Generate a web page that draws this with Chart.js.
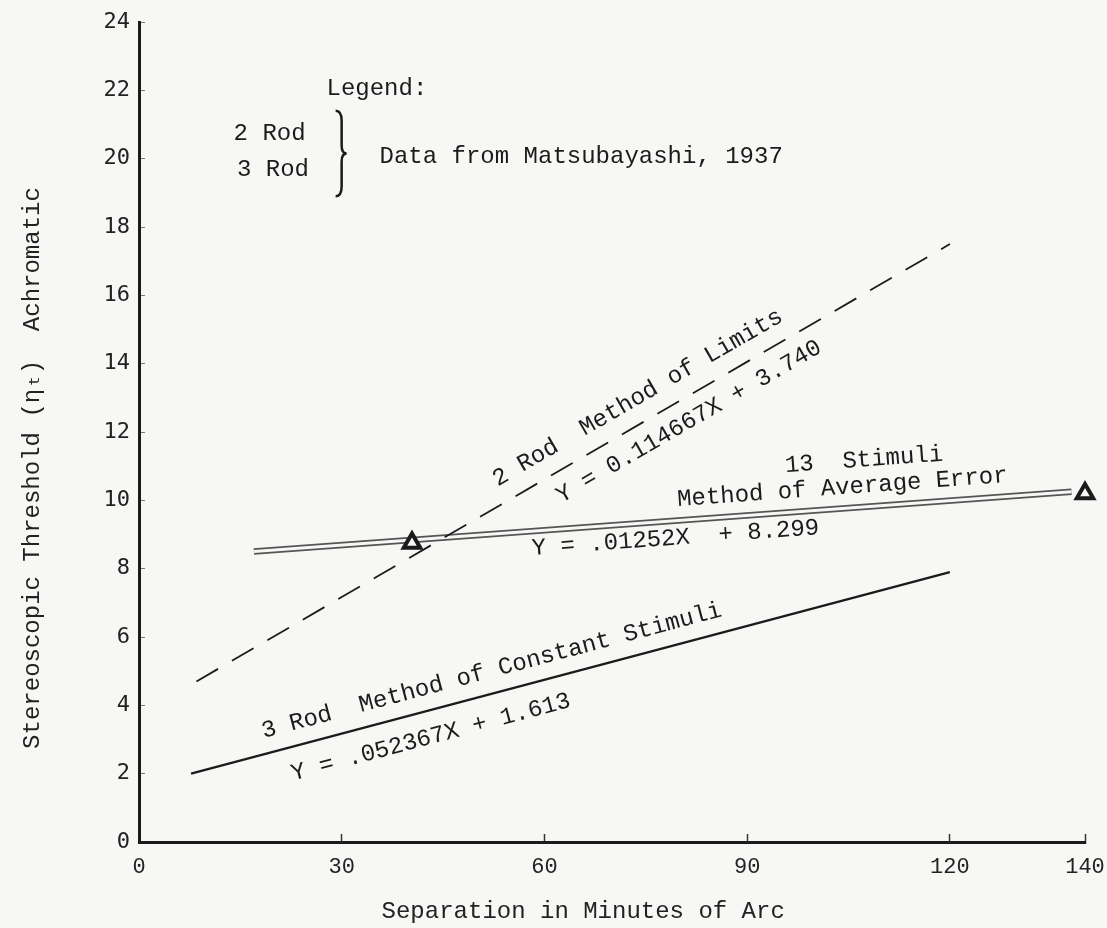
<!DOCTYPE html>
<html>
<head>
<meta charset="utf-8">
<title>Stereoscopic Threshold vs Separation</title>
<script src="https://cdn.jsdelivr.net/npm/chart.js@4.4.1/dist/chart.umd.min.js"></script>
<style>
  html, body { margin: 0; padding: 0; background: #f7f7f5; }
  #wrap { width: 1107px; height: 928px; position: relative; }
</style>
</head>
<body>
<div id="wrap"><canvas id="threshChart"></canvas></div>
<script>
// axis ticks
const xTicks = [0, 30, 60, 90, 120, 140];
const yTicks = [0, 2, 4, 6, 8, 10, 12, 14, 16, 18, 20, 22, 24];

// 2 Rod, method of limits (dashed line)
const limitsX = [8.5, 120];
const limitsY = [4.7, 17.5];

// 3 Rod, method of constant stimuli (solid line)
const constantX = [7.7, 120];
const constantY = [2.0, 7.9];

// 13 stimuli, method of average error (double line)
const avgErrX = [17, 138];
const avgErrY = [8.5, 10.25];

// triangle markers
const markX = [40.4, 140];
const markY = [8.75, 10.2];

// text written along the lines (centre of the text, in data units)
const lineNotes = [
  { text: '2 Rod  Method of Limits', x: 73.8, y: 13.0, along: 0 },
  { text: 'Y = 0.114667X + 3.740', x: 81.4, y: 12.3, along: 0 },
  { text: '3 Rod  Method of Constant Stimuli', x: 52.2, y: 5.01, along: 1 },
  { text: 'Y = .052367X + 1.613', x: 43.2, y: 3.06, along: 1 },
  { text: '13  Stimuli', x: 107.3, y: 11.18, along: 2 },
  { text: 'Method of Average Error', x: 104.1, y: 10.37, along: 2 },
  { text: 'Y = .01252X  + 8.299', x: 79.4, y: 8.89, along: 2 }
];

// the typed legend in the upper left
const legendNotes = [
  { text: 'Legend:', x: 27.75, y: 22.04 },
  { text: '2 Rod', x: 14.0, y: 20.72 },
  { text: '3 Rod', x: 14.5, y: 19.67 },
  { text: 'Data from Matsubayashi, 1937', x: 35.6, y: 20.06 }
];
const brace = { x: 29.1, top: 21.4, bottom: 18.9 };

const PAPER = '#f7f7f5';
const INK = '#1b1b1b';
const TYPE = "'Liberation Mono', 'Courier New', monospace";

Chart.defaults.font.family = TYPE;
Chart.defaults.color = INK;

function pts(xs, ys) {
  return xs.map((x, i) => ({ x: x, y: ys[i] }));
}

// draws the typed notes and the legend brace
const notesPlugin = {
  id: 'notes',
  afterDatasetsDraw(chart) {
    const ctx = chart.ctx;
    const xs = chart.scales.x;
    const ys = chart.scales.y;
    ctx.save();
    ctx.fillStyle = INK;
    ctx.strokeStyle = INK;
    ctx.font = '24px ' + TYPE;
    ctx.textBaseline = 'middle';

    ctx.textAlign = 'left';
    legendNotes.forEach(n => {
      ctx.fillText(n.text, xs.getPixelForValue(n.x), ys.getPixelForValue(n.y));
    });

    // curly brace
    const bx = xs.getPixelForValue(brace.x);
    const top = ys.getPixelForValue(brace.top);
    const bot = ys.getPixelForValue(brace.bottom);
    const mid = (top + bot) / 2;
    ctx.beginPath();
    ctx.moveTo(bx, top);
    ctx.quadraticCurveTo(bx + 6, top, bx + 6, top + 10);
    ctx.lineTo(bx + 6, mid - 8);
    ctx.quadraticCurveTo(bx + 6, mid, bx + 11, mid);
    ctx.quadraticCurveTo(bx + 6, mid, bx + 6, mid + 8);
    ctx.lineTo(bx + 6, bot - 10);
    ctx.quadraticCurveTo(bx + 6, bot, bx, bot);
    ctx.lineWidth = 2.5;
    ctx.stroke();

    ctx.textAlign = 'center';
    lineNotes.forEach(n => {
      const el = chart.getDatasetMeta(n.along).data;
      const a = el[el.length - 1];
      const b = el[0];
      const angle = Math.atan2(a.y - b.y, a.x - b.x);
      ctx.save();
      ctx.translate(xs.getPixelForValue(n.x), ys.getPixelForValue(n.y));
      ctx.rotate(angle);
      ctx.fillText(n.text, 0, 0);
      ctx.restore();
    });
    ctx.restore();
  }
};

const NB = '\u00a0';

new Chart(document.getElementById('threshChart'), {
  type: 'line',
  data: {
    datasets: [
      {
        label: '2 Rod Method of Limits',
        data: pts(limitsX, limitsY),
        borderColor: INK,
        borderWidth: 1.8,
        borderDash: [25, 16],
        pointRadius: 0,
        order: 2
      },
      {
        label: '3 Rod Method of Constant Stimuli',
        data: pts(constantX, constantY),
        borderColor: INK,
        borderWidth: 2.2,
        pointRadius: 0,
        order: 2
      },
      {
        label: '13 Stimuli Method of Average Error',
        data: pts(avgErrX, avgErrY),
        borderColor: '#555',
        borderWidth: 6.5,
        pointRadius: 0,
        order: 4
      },
      {
        // paper-coloured core turns the thick line into a double line
        label: 'gap',
        data: pts(avgErrX, avgErrY),
        borderColor: PAPER,
        borderWidth: 3,
        pointRadius: 0,
        order: 3
      },
      {
        label: 'Observed',
        data: pts(markX, markY),
        showLine: false,
        pointStyle: 'triangle',
        pointRadius: 9.5,
        borderWidth: 4,
        borderColor: INK,
        backgroundColor: PAPER,
        clip: false,
        order: 0
      }
    ]
  },
  options: {
    responsive: true,
    maintainAspectRatio: false,
    animation: false,
    events: [],
    elements: { line: { tension: 0 } },
    layout: { padding: { top: 22, right: 22, bottom: 0, left: 0 } },
    plugins: {
      legend: { display: false },
      tooltip: { enabled: false }
    },
    scales: {
      x: {
        type: 'linear',
        min: 0,
        max: 140,
        afterBuildTicks: s => { s.ticks = xTicks.map(v => ({ value: v })); },
        afterFit: s => { s.height = 86; s.paddingLeft = 0; s.paddingRight = 0; },
        grid: { drawOnChartArea: false, tickLength: -8, tickWidth: 1.5, tickColor: '#333' },
        border: { color: INK, width: 3 },
        ticks: { font: { size: 22 }, color: '#222', padding: 20, maxRotation: 0, autoSkip: false },
        title: {
          display: true,
          text: 'Separation in Minutes of Arc' + NB.repeat(4),
          font: { size: 24 },
          color: '#222',
          padding: { top: 0, bottom: 2 }
        }
      },
      y: {
        type: 'linear',
        min: 0,
        max: 24,
        afterBuildTicks: s => { s.ticks = yTicks.map(v => ({ value: v })); },
        afterFit: s => { s.width = 139; s.paddingTop = 0; s.paddingBottom = 0; },
        grid: { drawOnChartArea: false, tickLength: -6, tickWidth: 1, tickColor: '#777' },
        border: { color: INK, width: 3 },
        ticks: { font: { family: "'DejaVu Sans Mono', monospace", size: 22 }, color: '#222', padding: 15 },
        title: {
          display: true,
          text: 'Stereoscopic Threshold (\u03b7\u209c)  Achromatic' + NB.repeat(5),
          font: { size: 24 },
          color: '#222',
          padding: { top: 18, bottom: 0 }
        }
      }
    }
  },
  plugins: [notesPlugin]
});
</script>
</body>
</html>
